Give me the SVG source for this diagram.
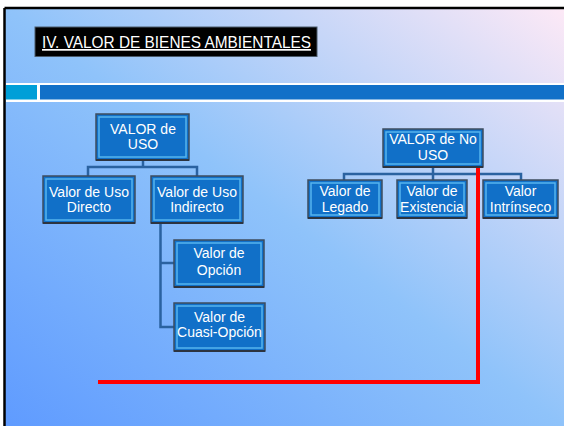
<svg xmlns="http://www.w3.org/2000/svg" width="564" height="426" viewBox="0 0 564 426">
<defs>
<linearGradient id="bg" x1="0" y1="1" x2="1" y2="0">
<stop offset="0" stop-color="#5f9bff"/>
<stop offset="0.5" stop-color="#8fc3fa"/>
<stop offset="1" stop-color="#fde9f6"/>
</linearGradient>
<style>
.box{fill:#1170c8;stroke:#3e4c5e;stroke-width:1.5}
.bev{fill:none;stroke:#55b4ee;stroke-width:1.5}
.sh{stroke:#2c3440;stroke-width:2}
.t{font-family:"Liberation Sans",Arial,sans-serif;font-size:14px;fill:#ffffff;text-anchor:middle}
.c{fill:none;stroke:#2a62a0;stroke-width:2.5}
</style>
</defs>
<rect x="0" y="0" width="564" height="426" fill="#ffffff"/>
<rect x="5" y="8" width="559" height="418" fill="url(#bg)"/>
<line x1="4.5" y1="8" x2="564" y2="8" stroke="#000" stroke-width="2.5"/>
<line x1="4.5" y1="8" x2="4.5" y2="426" stroke="#000" stroke-width="2.5"/>
<rect x="6" y="83" width="558" height="19" fill="#ffffff"/>
<rect x="6" y="85" width="31" height="14.5" fill="#009fd8"/>
<rect x="40" y="85" width="524" height="14.5" fill="#1170c8"/>
<g id="title">
<rect x="35" y="27" width="282" height="29.5" fill="#000" stroke="#4a5a6a" stroke-width="1"/>
<text x="42" y="48" font-family="Liberation Sans,Arial,sans-serif" font-size="17" fill="#fff" text-decoration="underline" textLength="269" lengthAdjust="spacingAndGlyphs">IV. VALOR DE BIENES AMBIENTALES</text>
</g>
<g id="connectors">
<polyline class="c" points="143,160 143,167"/>
<polyline class="c" points="88,176 88,167 197,167 197,176"/>
<polyline class="c" points="160.5,223 160.5,327 174,327"/>
<polyline class="c" points="160.5,263 174,263"/>
<polyline class="c" points="433,167 433,174"/>
<polyline class="c" points="344,180 344,174 521,174 521,180"/>
<polyline class="c" points="433,174 433,180"/>
<polyline fill="none" stroke="#ff0000" stroke-width="4" points="478,167 478,382 98,382"/>
</g>
<g id="n_uso">
<rect class="box" x="96" y="114" width="93" height="46"/>
<rect class="bev" x="99" y="117" width="87" height="40"/>
<line class="sh" x1="96" y1="160" x2="189" y2="160"/>
<text class="t" x="143" y="134">VALOR de</text>
<text class="t" x="143" y="149">USO</text>
</g>
<g id="n_directo">
<rect class="box" x="43" y="176" width="92" height="47"/>
<rect class="bev" x="46" y="179" width="86" height="41"/>
<line class="sh" x1="43" y1="223" x2="135" y2="223"/>
<text class="t" x="89" y="197">Valor de Uso</text>
<text class="t" x="89" y="212">Directo</text>
</g>
<g id="n_indirecto">
<rect class="box" x="151" y="176" width="92" height="47"/>
<rect class="bev" x="154" y="179" width="86" height="41"/>
<line class="sh" x1="151" y1="223" x2="243" y2="223"/>
<text class="t" x="197" y="197">Valor de Uso</text>
<text class="t" x="197" y="212">Indirecto</text>
</g>
<g id="n_opcion">
<rect class="box" x="174" y="240" width="90" height="47"/>
<rect class="bev" x="177" y="243" width="84" height="41"/>
<line class="sh" x1="174" y1="287" x2="264" y2="287"/>
<text class="t" x="219" y="258">Valor de</text>
<text class="t" x="219" y="275">Opción</text>
</g>
<g id="n_cuasi">
<rect class="box" x="174" y="303" width="91" height="48"/>
<rect class="bev" x="177" y="306" width="85" height="42"/>
<line class="sh" x1="174" y1="351" x2="265" y2="351"/>
<text class="t" x="219.5" y="322">Valor de</text>
<text class="t" x="219.5" y="337">Cuasi-Opción</text>
</g>
<g id="n_nouso">
<rect class="box" x="383" y="129" width="100" height="38"/>
<rect class="bev" x="386" y="132" width="94" height="32"/>
<line class="sh" x1="383" y1="167" x2="483" y2="167"/>
<text class="t" x="433" y="144">VALOR de No</text>
<text class="t" x="433" y="160">USO</text>
</g>
<g id="n_legado">
<rect class="box" x="308" y="180" width="74" height="38"/>
<rect class="bev" x="311" y="183" width="68" height="32"/>
<line class="sh" x1="308" y1="218" x2="382" y2="218"/>
<text class="t" x="345" y="196">Valor de</text>
<text class="t" x="345" y="212">Legado</text>
</g>
<g id="n_existencia">
<rect class="box" x="397" y="180" width="70" height="38"/>
<rect class="bev" x="400" y="183" width="64" height="32"/>
<line class="sh" x1="397" y1="218" x2="467" y2="218"/>
<text class="t" x="432" y="196">Valor de</text>
<text class="t" x="432" y="212">Existencia</text>
</g>
<g id="n_intrinseco">
<rect class="box" x="483" y="180" width="75" height="38"/>
<rect class="bev" x="486" y="183" width="69" height="32"/>
<line class="sh" x1="483" y1="218" x2="558" y2="218"/>
<text class="t" x="520.5" y="196">Valor</text>
<text class="t" x="520.5" y="212">Intrínseco</text>
</g>
</svg>
